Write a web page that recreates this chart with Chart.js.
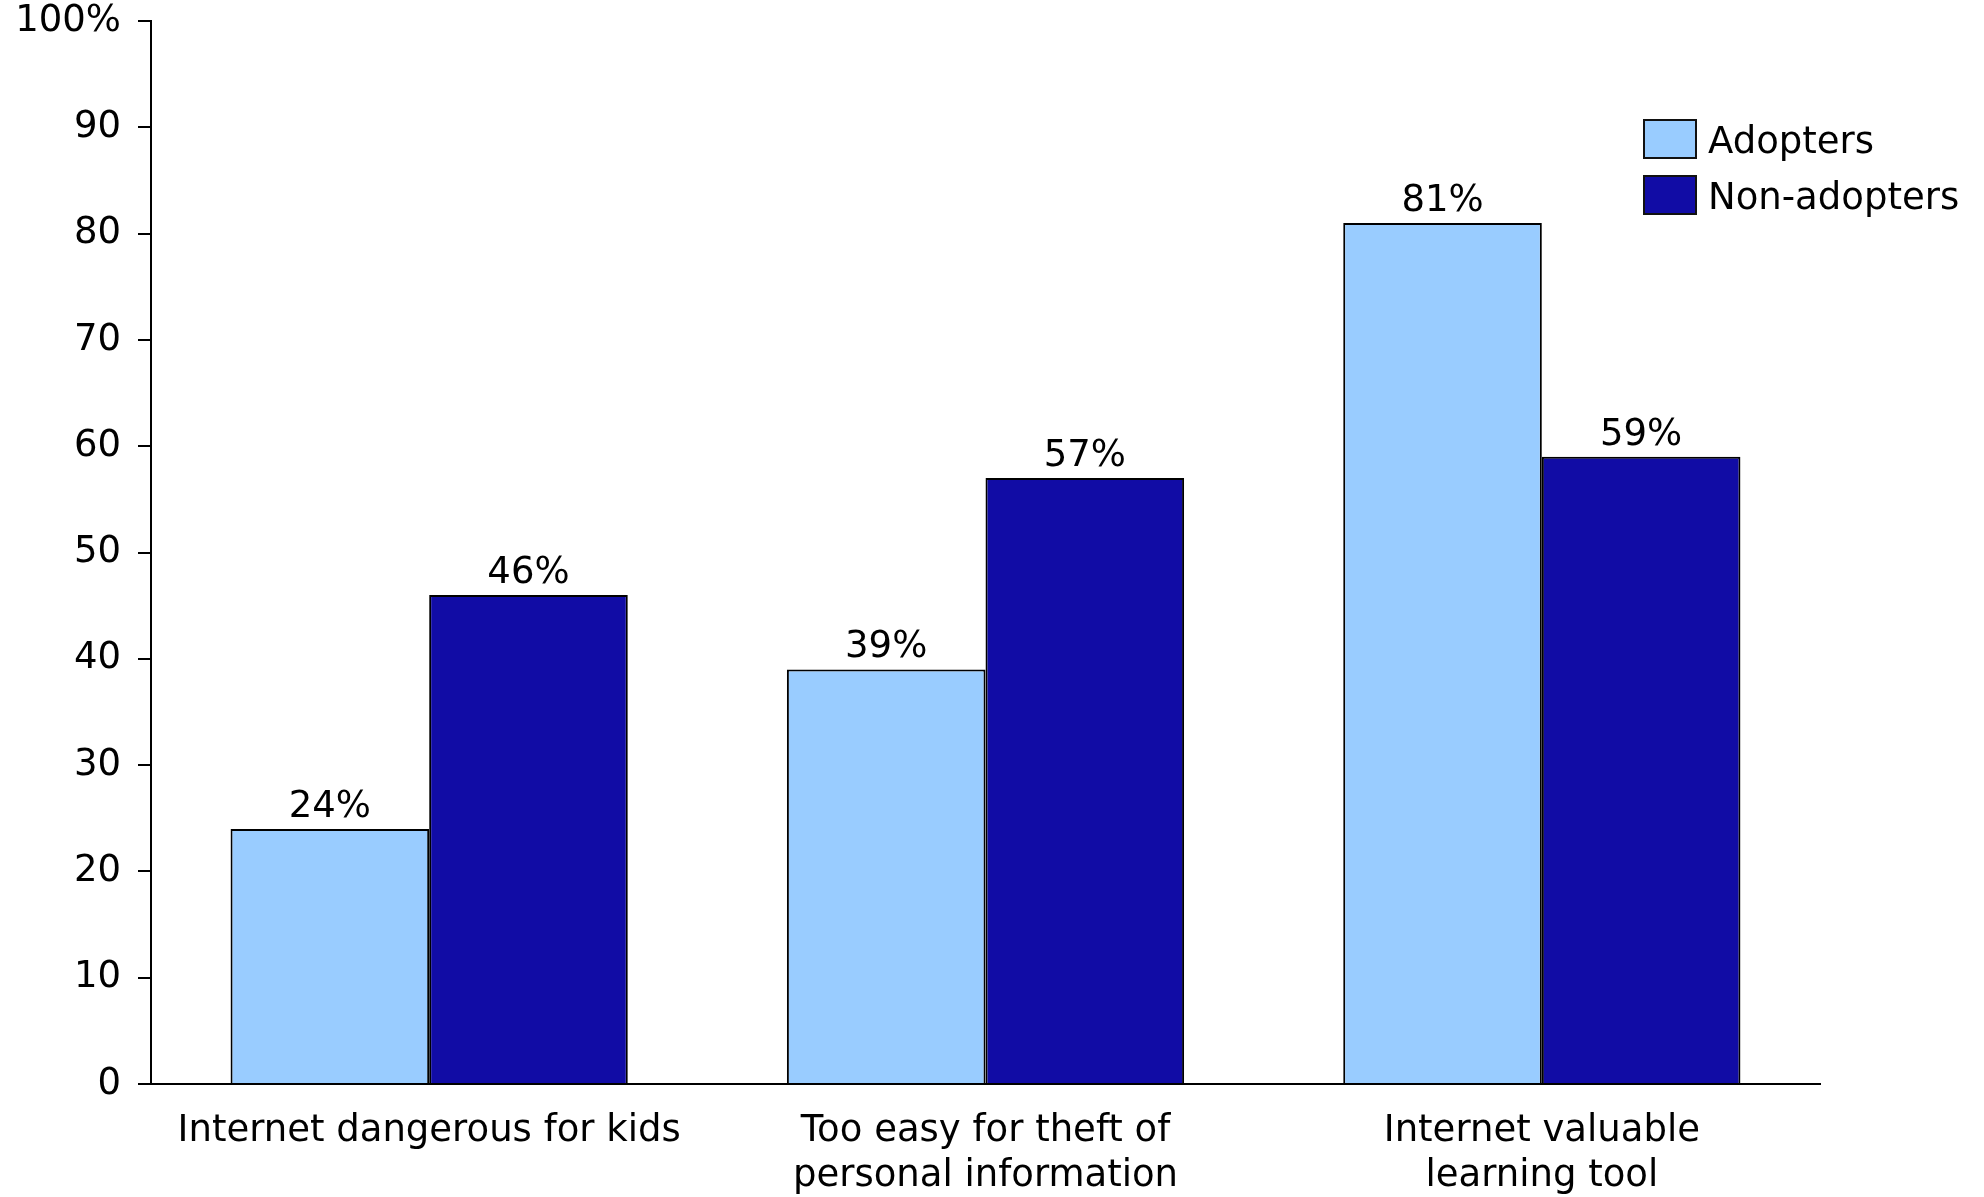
<!DOCTYPE html>
<html>
<head>
<meta charset="utf-8">
<script src="https://cdn.jsdelivr.net/npm/chart.js@4/dist/chart.umd.min.js"></script>
<style>
  html, body { margin: 0; padding: 0; background: #fff; }
  #wrap { width: 1984px; height: 1197px; }
</style>
</head>
<body>
<div id="wrap"><canvas id="myChart"></canvas></div>
<script>
const categories = [
  ["Internet dangerous for kids"],
  ["Too easy for theft of", "personal information"],
  ["Internet valuable", "learning tool"]
];
const adopters = [24, 39, 81];
const nonAdopters = [46, 57, 59];
const seriesNames = ["Adopters", "Non-adopters"];
const yTicks = [0, 10, 20, 30, 40, 50, 60, 70, 80, 90, 100];

const FONT = 'Verdana, "DejaVu Sans", sans-serif';
const FONT_SIZE = 37;

// percent labels above each bar
const barValueLabels = {
  id: "barValueLabels",
  afterDatasetsDraw(chart) {
    const ctx = chart.ctx;
    ctx.save();
    ctx.font = FONT_SIZE + "px " + FONT;
    ctx.fillStyle = "#000";
    ctx.textAlign = "center";
    ctx.textBaseline = "alphabetic";
    chart.data.datasets.forEach((ds, i) => {
      chart.getDatasetMeta(i).data.forEach((bar, j) => {
        ctx.fillText(ds.data[j] + "%", bar.x, bar.y - 12);
      });
    });
    ctx.restore();
  }
};

// legend boxes sit inside the plot, top right
const boxLegend = {
  id: "boxLegend",
  afterDraw(chart) {
    const ctx = chart.ctx;
    const x = 1644, w = 52, h = 38;
    const rows = [120, 176];
    ctx.save();
    ctx.font = FONT_SIZE + "px " + FONT;
    ctx.textAlign = "left";
    ctx.textBaseline = "middle";
    chart.data.datasets.forEach((ds, i) => {
      const y = rows[i];
      ctx.fillStyle = ds.backgroundColor;
      ctx.fillRect(x, y, w, h);
      ctx.lineWidth = 2;
      ctx.strokeStyle = "#111";
      ctx.strokeRect(x, y, w, h);
      ctx.fillStyle = "#000";
      ctx.fillText(ds.label, x + w + 12, y + h / 2 + 4);
    });
    ctx.restore();
  }
};

const ctx = document.getElementById("myChart").getContext("2d");

const myChart = new Chart(ctx, {
  type: "bar",
  data: {
    labels: categories,
    datasets: [{
      label: seriesNames[0],
      data: adopters,
      backgroundColor: "#99ccff",
      borderColor: "#000",
      borderWidth: 2,
      borderSkipped: "bottom",
      categoryPercentage: 0.714,
      barPercentage: 1.0
    }, {
      label: seriesNames[1],
      data: nonAdopters,
      backgroundColor: "#110ca5",
      borderColor: "#000",
      borderWidth: 2,
      borderSkipped: "bottom",
      categoryPercentage: 0.714,
      barPercentage: 1.0
    }]
  },
  options: {
    responsive: true,
    maintainAspectRatio: false,
    animation: false,
    layout: { padding: { top: 21, right: 164, bottom: 0, left: 0 } },
    scales: {
      x: {
        grid: { display: false, drawTicks: false },
        border: { display: true, color: "#000", width: 2 },
        ticks: {
          color: "#000",
          padding: 25,
          font: { family: FONT, size: FONT_SIZE, lineHeight: 1.22 },
          maxRotation: 0,
          autoSkip: false
        },
        afterFit: (scale) => { scale.height = 113; }
      },
      y: {
        min: 0,
        max: 100,
        afterBuildTicks: (scale) => { scale.ticks = yTicks.map(v => ({ value: v })); },
        grid: {
          display: true,
          drawOnChartArea: false,
          drawTicks: true,
          tickLength: 13,
          color: "#000",
          lineWidth: 2
        },
        border: { display: true, color: "#000", width: 2 },
        ticks: {
          color: "#000",
          padding: 17,
          font: { family: FONT, size: FONT_SIZE },
          callback: (value) => value === 100 ? "100%" : value
        },
        afterFit: (scale) => {
          scale.width = 151;
          scale.paddingTop = 0;
          scale.paddingBottom = 0;
        }
      }
    },
    plugins: {
      legend: { display: false },
      tooltip: { enabled: false }
    }
  },
  plugins: [barValueLabels, boxLegend]
});
</script>
</body>
</html>
